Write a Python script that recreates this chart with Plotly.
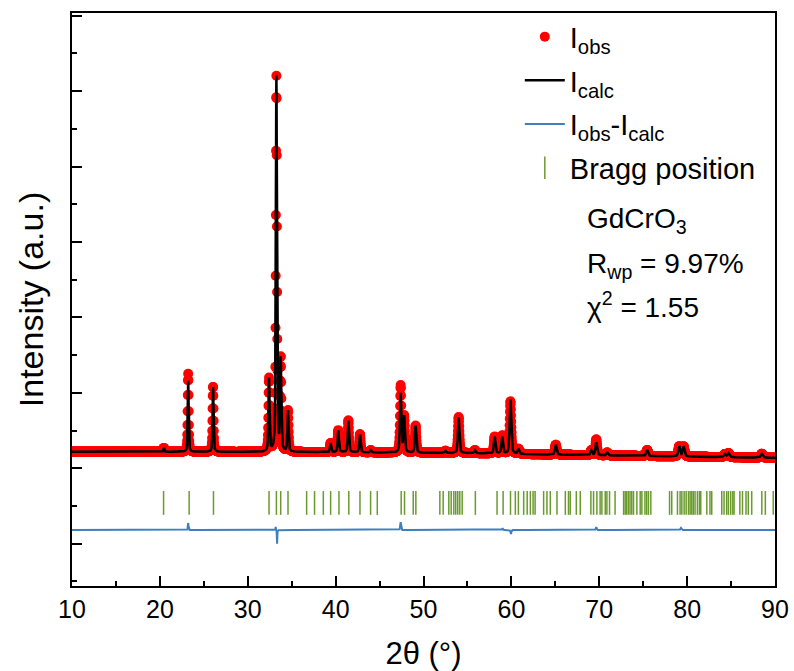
import numpy as np
import plotly.graph_objects as go

# Reflections of the refined profile: 2θ position (°) and peak height above background (counts)
peak_pos = [20.45, 23.22, 26.05, 32.42, 33.26, 33.75, 34.58, 39.43, 40.30, 41.45,
            42.77, 44.00, 47.40, 47.80, 49.10, 52.50, 54.00, 55.85, 58.10, 58.95,
            59.90, 60.80, 65.05, 69.10, 69.66, 70.90, 75.45, 79.10, 79.60, 84.30,
            84.70, 88.50]
peak_height = [106, 1884, 1750, 1935, 9950, 2450, 1090, 240, 580, 850,
               480, 55, 1560, 955, 715, 55, 955, 80, 450, 450,
               1445, 130, 265, 130, 345, 80, 160, 265, 265, 80,
               106, 106]

# Background level (counts) at a few angles
bg_pos = [10, 40, 55, 70, 90]
bg_val = [440, 425, 400, 340, 275]

# Misfit features (observed minus calculated): position, amplitude, width
diff_pos = [23.22, 33.18, 33.34, 47.40, 59.00, 59.95, 69.66, 79.30]
diff_amp = [185, 90, -360, 210, 50, -106, 80, 55]
diff_width = [0.10, 0.05, 0.06, 0.12, 0.10, 0.10, 0.12, 0.15]

# Allowed reflections (tick marks), 2θ (°)
bragg_pos = [20.42, 23.33, 26.10, 32.42, 33.26, 33.75, 34.58, 36.70, 37.60, 38.60,
             39.43, 40.38, 41.50, 42.77, 43.98, 44.74, 47.46, 47.84, 48.83, 49.13,
             51.86, 52.24, 52.88, 53.15, 53.45, 53.67, 53.90, 54.13, 54.40, 55.90,
             58.37, 59.06, 59.90, 60.45, 60.80, 61.40, 61.80, 62.16, 62.47, 62.70,
             63.67, 64.05, 64.43, 65.19, 66.14, 66.50, 66.70, 67.39, 67.84, 69.05,
             69.35, 69.73, 70.10, 70.30, 70.68, 70.87, 71.17, 71.80, 72.77, 72.95,
             73.10, 73.30, 73.50, 73.70, 73.90, 74.28, 74.66, 74.85, 75.20, 75.40,
             75.60, 75.87, 78.00, 78.25, 78.90, 79.20, 79.40, 79.66, 79.89, 80.15,
             80.34, 80.53, 80.70, 80.90, 81.17, 81.40, 81.55, 82.24, 82.60, 82.80,
             83.94, 84.20, 84.50, 84.70, 84.96, 85.20, 85.34, 86.00, 86.30, 86.70,
             86.96, 87.35, 88.50, 88.90, 89.80]

diff_offset = -1640   # vertical shift of the difference curve
bragg_level = -921    # vertical position of the reflection ticks

# Measurement grid (0.02° step)
two_theta = np.round(np.arange(10.0, 90.0001, 0.02), 4)


def pseudo_voigt(x, pos, height, fwhm, eta=0.5):
    d2 = ((x - pos) / fwhm) ** 2
    lor = 1.0 / (1.0 + 4.0 * d2)
    gau = np.exp(-4.0 * np.log(2.0) * d2)
    return height * (eta * lor + (1.0 - eta) * gau)


background = np.interp(two_theta, bg_pos, bg_val)
i_calc = background.copy()
for p, h in zip(peak_pos, peak_height):
    fwhm = 0.12 + 0.0022 * (p - 20.0)
    i_calc += pseudo_voigt(two_theta, p, h, fwhm)

misfit = np.zeros_like(two_theta)
for p, a, w in zip(diff_pos, diff_amp, diff_width):
    misfit += pseudo_voigt(two_theta, p, a, w, eta=0.2)

i_obs = i_calc + misfit
i_diff = i_obs - i_calc + diff_offset

FONT = "Liberation Sans, Arial, sans-serif"
RED = "#ff0000"
BLUE = "#3d7fbf"
GREEN = "#6a9a2e"

fig = go.Figure()

fig.add_trace(go.Scatter(
    x=two_theta, y=i_obs, mode="markers", name="I<sub>obs</sub>",
    marker=dict(color=RED, size=10, line=dict(width=0)),
    legendgroup="a"))
fig.add_trace(go.Scatter(
    x=two_theta, y=i_calc, mode="lines", name="I<sub>calc</sub>",
    line=dict(color="black", width=2.5), legendgroup="b"))
fig.add_trace(go.Scatter(
    x=two_theta, y=i_diff, mode="lines", name="I<sub>obs</sub>-I<sub>calc</sub>",
    line=dict(color=BLUE, width=2), legendgroup="c"))
fig.add_trace(go.Scatter(
    x=bragg_pos, y=[bragg_level] * len(bragg_pos), mode="markers",
    name="Bragg position",
    marker=dict(symbol="line-ns", size=17, color=GREEN,
                line=dict(color=GREEN, width=1.5)),
    legendgroup="d"))

fig.update_layout(
    width=794, height=671,
    margin=dict(l=72, r=19, t=13, b=85, autoexpand=False),
    paper_bgcolor="white", plot_bgcolor="white",
    font=dict(family=FONT, size=24, color="black"),
    showlegend=True,
    legend=dict(
        x=0.637, y=1.003, xanchor="left", yanchor="top",
        bgcolor="rgba(0,0,0,0)", borderwidth=0,
        font=dict(family=FONT, size=29, color="black"),
        tracegroupgap=3, itemwidth=40,
    ),
)

fig.update_xaxes(
    range=[10, 90], dtick=10, tick0=10, automargin=False,
    showline=True, linecolor="black", linewidth=2, mirror=True,
    ticks="inside", ticklen=10, tickwidth=1.5, tickcolor="black",
    minor=dict(dtick=5, ticks="inside", ticklen=5, tickwidth=1.5, tickcolor="black"),
    showgrid=False, zeroline=False,
    tickfont=dict(family=FONT, size=25),
    title=dict(text="2θ (°)", font=dict(family=FONT, size=31), standoff=22),
)
fig.update_yaxes(
    range=[-3123, 12071], dtick=2000, tick0=0, automargin=False,
    showline=True, linecolor="black", linewidth=2, mirror=True,
    ticks="inside", ticklen=10, tickwidth=1.5, tickcolor="black",
    minor=dict(dtick=1000, ticks="inside", ticklen=5, tickwidth=1.5, tickcolor="black"),
    showgrid=False, zeroline=False, showticklabels=False,
    title=dict(text="Intensity (a.u.)", font=dict(family=FONT, size=34), standoff=16),
)

notes = [("GdCrO<sub>3</sub>", 220), ("R<sub>wp</sub> = 9.97%", 265), ("χ<sup>2</sup> = 1.55", 305)]
for txt, ypix in notes:
    fig.add_annotation(
        text=txt, xref="paper", yref="paper",
        x=(585 - 72) / 703, y=(586 - ypix) / 573,
        xanchor="left", yanchor="middle", showarrow=False,
        font=dict(family=FONT, size=28, color="black"),
    )

fig.write_html("out.html")
